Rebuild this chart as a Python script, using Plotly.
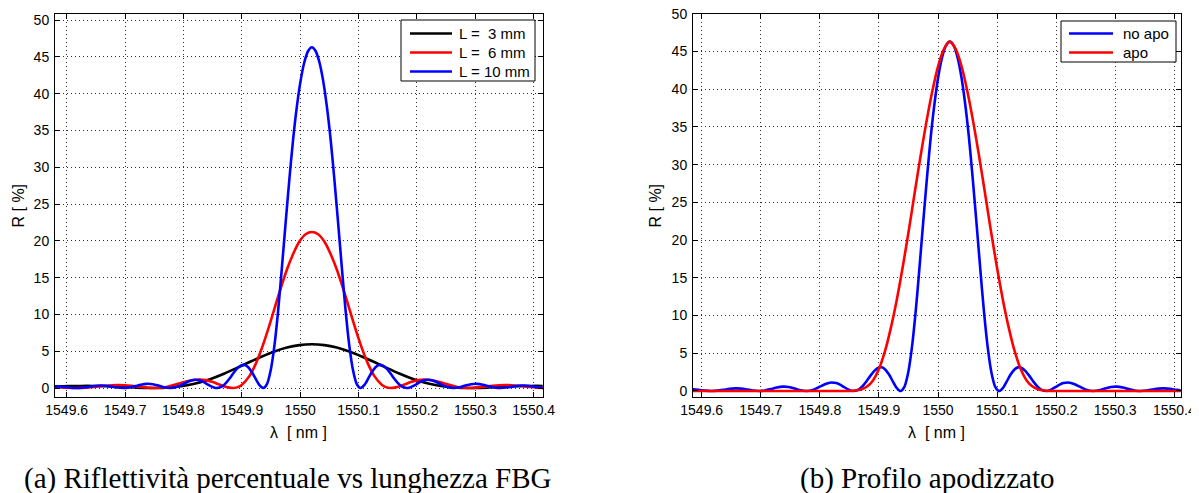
import plotly.graph_objects as go

# ---------------- data ----------------
tick_lam = [1549.6, 1549.7, 1549.8, 1549.9, 1550.0, 1550.1, 1550.2, 1550.3, 1550.4]
tick_lam_text = ["1549.6", "1549.7", "1549.8", "1549.9", "1550", "1550.1", "1550.2", "1550.3", "1550.4"]
tick_R = [0, 5, 10, 15, 20, 25, 30, 35, 40, 45, 50]

# L = 3 mm
lam_L3 = [1549.5800, 1549.5926, 1549.6140, 1549.6354, 1549.6568, 1549.6781, 1549.6995, 1549.7209,
          1549.7506, 1549.7636, 1549.7850, 1549.8063, 1549.8277, 1549.8491, 1549.8704, 1549.8918,
          1549.9132, 1549.9345, 1549.9559, 1549.9773, 1549.9986, 1550.0200,
          1550.0414, 1550.0627, 1550.0841, 1550.1055, 1550.1268, 1550.1482, 1550.1696, 1550.1909,
          1550.2123, 1550.2337, 1550.2550, 1550.2764, 1550.2894, 1550.3191, 1550.3405, 1550.3619,
          1550.3832, 1550.4046, 1550.4260]
R_L3 = [0.19, 0.23, 0.27, 0.29, 0.27, 0.22, 0.14, 0.06,
        0.0, 0.02, 0.13, 0.37, 0.76, 1.30, 1.97, 2.73,
        3.53, 4.29, 4.97, 5.50, 5.83, 5.95,
        5.83, 5.50, 4.97, 4.29, 3.53, 2.73, 1.97, 1.30,
        0.76, 0.37, 0.13, 0.02, 0.0, 0.06, 0.14, 0.22,
        0.27, 0.29, 0.27]

# L = 6 mm
lam_L6 = [1549.5800, 1549.5991, 1549.6167, 1549.6354, 1549.6461, 1549.6568, 1549.6674, 1549.6781,
          1549.6867, 1549.6995, 1549.7102, 1549.7209, 1549.7315, 1549.7422, 1549.7506, 1549.7636,
          1549.7743, 1549.7850, 1549.7956, 1549.8063, 1549.8170, 1549.8277, 1549.8384, 1549.8491,
          1549.8597, 1549.8704, 1549.8841, 1549.8918, 1549.9003, 1549.9132, 1549.9238, 1549.9345,
          1549.9452, 1549.9559, 1549.9666, 1549.9773, 1549.9879, 1549.9986, 1550.0093, 1550.0200,
          1550.0307, 1550.0414, 1550.0521, 1550.0627, 1550.0734, 1550.0841, 1550.0948, 1550.1055,
          1550.1162, 1550.1268, 1550.1397, 1550.1482, 1550.1559, 1550.1696, 1550.1803, 1550.1909,
          1550.2016, 1550.2123, 1550.2230, 1550.2337, 1550.2444, 1550.2550, 1550.2657, 1550.2764,
          1550.2894, 1550.2978, 1550.3085, 1550.3191, 1550.3298, 1550.3405, 1550.3533, 1550.3619,
          1550.3726, 1550.3832, 1550.3939, 1550.4046, 1550.4233]
R_L6 = [0.14, 0.04, 0.0, 0.06, 0.13, 0.22, 0.31, 0.38,
        0.41, 0.38, 0.31, 0.21, 0.10, 0.02, 0.0, 0.06,
        0.21, 0.43, 0.68, 0.93, 1.10, 1.16, 1.07, 0.85,
        0.53, 0.21, 0.0, 0.09, 0.46, 1.65, 3.28, 5.45,
        8.0, 10.8, 13.55, 16.1, 18.2, 19.9, 20.9, 21.2,
        20.9, 19.9, 18.2, 16.1, 13.55, 10.8, 8.0, 5.45,
        3.28, 1.65, 0.46, 0.09, 0.0, 0.21, 0.53, 0.85,
        1.07, 1.16, 1.10, 0.93, 0.68, 0.43, 0.21, 0.06,
        0.0, 0.02, 0.10, 0.21, 0.31, 0.38, 0.41, 0.38,
        0.31, 0.22, 0.13, 0.06, 0.0]

# L = 10 mm  (also the "no apo" profile)
lam_L10 = [1549.5764, 1549.5865, 1549.5965, 1549.6065, 1549.6167, 1549.6268, 1549.6368, 1549.6470,
           1549.6569, 1549.6670, 1549.6770, 1549.6870, 1549.6971, 1549.7071, 1549.7172, 1549.7271,
           1549.7373, 1549.7473, 1549.7573, 1549.7673, 1549.7774, 1549.7892, 1549.7956, 1549.8021,
           1549.8085, 1549.8149, 1549.8200, 1549.8277, 1549.8341, 1549.8405, 1549.8469, 1549.8533,
           1549.8575, 1549.8662, 1549.8726, 1549.8790, 1549.8854, 1549.8918, 1549.8982, 1549.9046,
           1549.9110, 1549.9174, 1549.9238, 1549.9303, 1549.9367, 1549.9431, 1549.9495, 1549.9559,
           1549.9623, 1549.9687, 1549.9751, 1549.9815, 1549.9879, 1549.9944, 1550.0008, 1550.0072,
           1550.0136, 1550.0200,
           1550.0264, 1550.0328, 1550.0392, 1550.0456, 1550.0521, 1550.0585, 1550.0649, 1550.0713,
           1550.0777, 1550.0841, 1550.0905, 1550.0969, 1550.1033, 1550.1097, 1550.1162, 1550.1226,
           1550.1290, 1550.1354, 1550.1418, 1550.1482, 1550.1546, 1550.1610, 1550.1674, 1550.1738,
           1550.1825, 1550.1867, 1550.1931, 1550.1995, 1550.2059, 1550.2123, 1550.2200, 1550.2251,
           1550.2315, 1550.2379, 1550.2444, 1550.2508, 1550.2626, 1550.2727, 1550.2827, 1550.2927,
           1550.3027, 1550.3129, 1550.3228, 1550.3329, 1550.3429, 1550.3530, 1550.3630, 1550.3730,
           1550.3831, 1550.3930, 1550.4032, 1550.4132, 1550.4233]
R_L10 = [0.23, 0.21, 0.13, 0.04, 0.0, 0.04, 0.15, 0.28,
         0.34, 0.31, 0.19, 0.06, 0.0, 0.07, 0.25, 0.45,
         0.57, 0.52, 0.33, 0.10, 0.0, 0.17, 0.39, 0.65,
         0.89, 1.07, 1.12, 1.04, 0.83, 0.54, 0.25, 0.04,
         0.0, 0.22, 0.66, 1.29, 2.00, 2.63, 3.05, 3.13,
         2.82, 2.14, 1.24, 0.39, 0.0, 0.54, 2.41, 5.8,
         10.6, 16.4, 22.5, 28.4, 33.8, 38.3, 41.8, 44.3,
         45.8, 46.3,
         45.8, 44.3, 41.8, 38.3, 33.8, 28.4, 22.5, 16.4,
         10.6, 5.8, 2.41, 0.54, 0.0, 0.39, 1.24, 2.14,
         2.82, 3.13, 3.05, 2.63, 2.00, 1.29, 0.66, 0.22,
         0.0, 0.04, 0.25, 0.54, 0.83, 1.04, 1.12, 1.07,
         0.89, 0.65, 0.39, 0.17, 0.0, 0.10, 0.33, 0.52,
         0.57, 0.45, 0.25, 0.07, 0.0, 0.06, 0.19, 0.31,
         0.34, 0.28, 0.15, 0.04, 0.0]

# apodized profile
lam_apo = [1549.58, 1549.70, 1549.80, 1549.84, 1549.85, 1549.86, 1549.87, 1549.88, 1549.89,
           1549.90, 1549.91, 1549.92, 1549.93, 1549.94, 1549.95, 1549.96, 1549.97, 1549.98,
           1549.99, 1550.00, 1550.01, 1550.02, 1550.03, 1550.04, 1550.05, 1550.06, 1550.07,
           1550.08, 1550.09, 1550.10, 1550.11, 1550.12, 1550.13, 1550.14, 1550.15, 1550.16,
           1550.17, 1550.18, 1550.19, 1550.20, 1550.30, 1550.42]
R_apo = [0.0, 0.0, 0.0, 0.0, 0.01, 0.06, 0.2, 0.6, 1.4,
         2.9, 5.2, 8.3, 12.0, 16.3, 21.0, 26.0, 30.9, 35.5,
         39.6, 43.0, 45.3, 46.3, 45.3, 43.0, 39.6, 35.5, 30.9,
         26.0, 21.0, 16.3, 12.0, 8.3, 5.2, 2.9, 1.4, 0.6,
         0.2, 0.06, 0.01, 0.0, 0.0, 0.0]

names_left = ["L =\u00a0\u00a03 mm", "L =\u00a0\u00a06 mm", "L = 10 mm"]
colors_left = ["#000000", "#ff0000", "#0000ff"]
names_right = ["no apo", "apo"]
colors_right = ["#0000ff", "#ff0000"]
captions = ["(a) Riflettività percentuale vs lunghezza FBG", "(b) Profilo apodizzato"]

# ---------------- figure ----------------
SANS = "Liberation Sans, Arial, Helvetica, sans-serif"
SERIF = "Liberation Serif, Times New Roman, serif"
PAGE_W, PAGE_H = 1199, 493
OFF = 8                      # default page margin around the plot div
W, H = PAGE_W - OFF, PAGE_H - OFF
LW = 2.6


def px(x):          # page pixel -> paper fraction
    return (x - OFF) / W


def py(y):
    return (H - (y - OFF)) / H


def line(color):
    return dict(color=color, width=LW, shape="spline", smoothing=0.7)


fig = go.Figure()
fig.add_trace(go.Scatter(x=lam_L3, y=R_L3, mode="lines", name=names_left[0], line=line(colors_left[0]),
                         xaxis="x", yaxis="y"))
fig.add_trace(go.Scatter(x=lam_L6, y=R_L6, mode="lines", name=names_left[1], line=line(colors_left[1]),
                         xaxis="x", yaxis="y"))
fig.add_trace(go.Scatter(x=lam_L10, y=R_L10, mode="lines", name=names_left[2], line=line(colors_left[2]),
                         xaxis="x", yaxis="y"))
fig.add_trace(go.Scatter(x=lam_L10, y=R_L10, mode="lines", name=names_right[0], line=line(colors_right[0]),
                         xaxis="x2", yaxis="y2"))
fig.add_trace(go.Scatter(x=lam_apo, y=R_apo, mode="lines", name=names_right[1], line=line(colors_right[1]),
                         xaxis="x2", yaxis="y2"))

axis_common = dict(showline=True, linecolor="black", linewidth=1, mirror="ticks",
                   ticks="inside", ticklen=5, tickcolor="black", tickwidth=1,
                   showgrid=True, gridcolor="#303030", griddash="1px,3px", gridwidth=1,
                   zeroline=False, automargin=False, ticklabeloverflow="allow",
                   tickfont=dict(family=SANS, size=14, color="black"))

ydom = [py(397.3), py(13.7)]
fig.update_layout(
    width=W, height=H,
    margin=dict(l=0, r=0, t=0, b=0, pad=0, autoexpand=False),
    paper_bgcolor="white", plot_bgcolor="white",
    showlegend=False,
    xaxis=dict(domain=[px(55), px(542.7)], range=[1549.58, 1550.4154], tickvals=tick_lam,
               ticktext=tick_lam_text, anchor="y", **axis_common),
    yaxis=dict(domain=ydom, range=[-1.26, 50.86], tickvals=tick_R, anchor="x",
               ticklabelstandoff=2, **axis_common),
    xaxis2=dict(domain=[px(693), px(1180.7)], range=[1549.5853, 1550.4108], tickvals=tick_lam,
                ticktext=tick_lam_text, anchor="y2", **axis_common),
    yaxis2=dict(domain=ydom, range=[-0.84, 50.0], tickvals=tick_R, anchor="x2",
                ticklabelstandoff=2, **axis_common),
)


# legends (boxed, top-right of each panel)
def add_legend(box, line_x, text_x, rows, names, colors):
    x0, x1, y0, y1 = box
    fig.add_shape(type="rect", xref="paper", yref="paper", x0=px(x0), x1=px(x1), y0=py(y1), y1=py(y0),
                  line=dict(color="black", width=1), fillcolor="white", layer="above")
    for ry, nm, col in zip(rows, names, colors):
        fig.add_shape(type="line", xref="paper", yref="paper", x0=px(line_x[0]), x1=px(line_x[1]),
                      y0=py(ry), y1=py(ry), line=dict(color=col, width=LW), layer="above")
        fig.add_annotation(text=nm, x=px(text_x), y=py(ry), xref="paper", yref="paper",
                           showarrow=False, xanchor="left", yanchor="middle",
                           font=dict(family=SANS, size=15, color="black"))


add_legend((401, 535, 20, 81), (410, 452), 457, (33.5, 52.5, 71.5), names_left, colors_left)
add_legend((1061, 1176, 21, 62), (1069, 1113), 1121, (33.5, 52.5), names_right, colors_right)

# axis titles
for cx in [(55 + 542.7) / 2, (693 + 1180.7) / 2]:
    fig.add_annotation(text="λ\u00a0\u00a0[ nm ]", x=px(cx), y=py(432), xref="paper", yref="paper",
                       showarrow=False, xanchor="center", yanchor="middle",
                       font=dict(family=SANS, size=16, color="black"))
for cx in [18, 655]:
    fig.add_annotation(text="R [ %]", x=px(cx), y=py(205.5), xref="paper", yref="paper",
                       showarrow=False, xanchor="center", yanchor="middle", textangle=-90,
                       font=dict(family=SANS, size=16, color="black"))

# captions
for cx, txt in zip([288, 927], captions):
    fig.add_annotation(text=txt, x=px(cx), y=py(478), xref="paper", yref="paper",
                       showarrow=False, xanchor="center", yanchor="middle",
                       font=dict(family=SERIF, size=29, color="black"))

fig.write_html("out.html")
